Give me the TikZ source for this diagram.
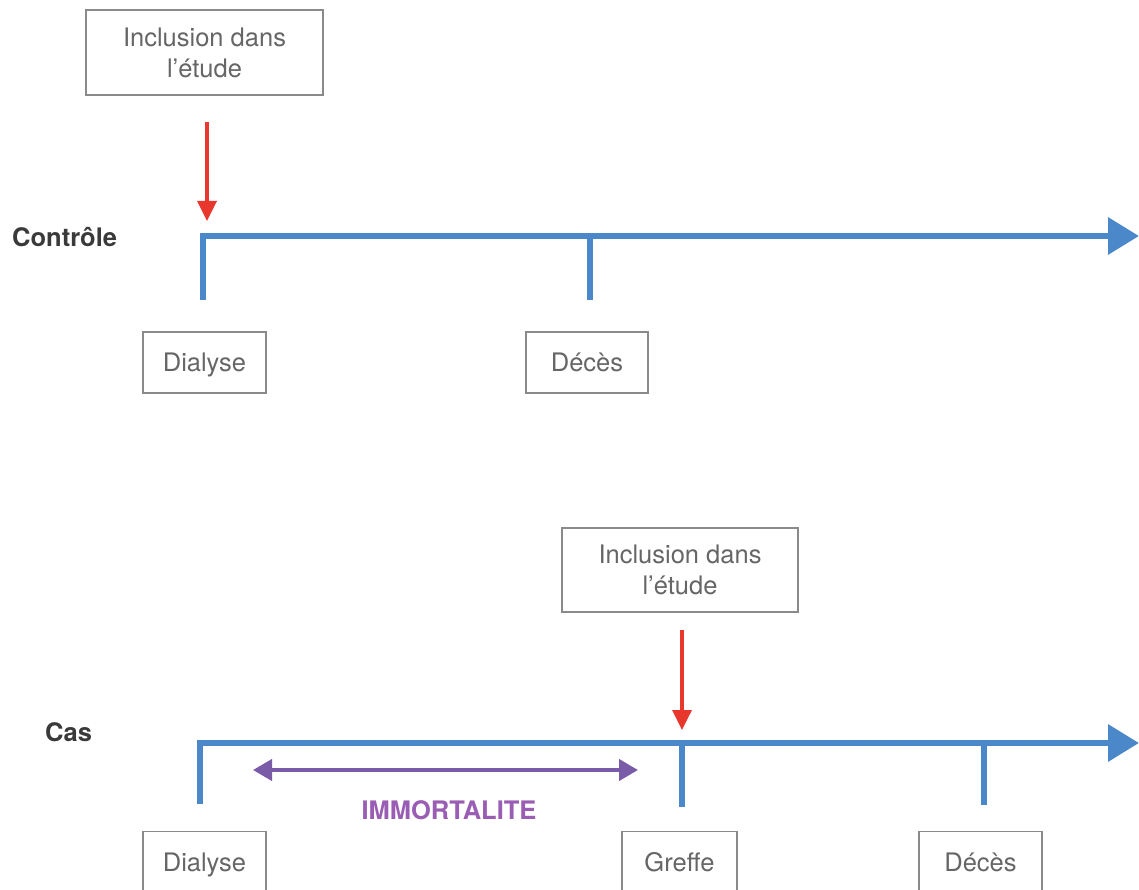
\documentclass[tikz,border=0pt]{standalone}
\usepackage{fontspec}
\setmainfont{TeX Gyre Heros}
\usetikzlibrary{arrows.meta}
\definecolor{tlblue}{HTML}{4A88C9}
\definecolor{tlred}{HTML}{E8372C}
\definecolor{tlpurple}{HTML}{7A5BA8}
\definecolor{tlpurpletext}{HTML}{9A5DB4}
\definecolor{boxgray}{HTML}{8A8A8A}
\definecolor{txtgray}{HTML}{666666}
\definecolor{lblgray}{HTML}{3A3A3A}
\tikzset{
  evbox/.style={draw=boxgray, line width=1.3pt, text=txtgray, align=center,
    font=\fontsize{25.5}{31}\selectfont, inner sep=0pt},
  onetext/.style={text=txtgray, font=\fontsize{25.5}{31}\selectfont, inner sep=0pt,
    text height=17pt, text depth=5pt},
  grplabel/.style={text=lblgray, font=\fontsize{25.5}{28}\selectfont\bfseries, anchor=west, inner sep=0pt},
  timeline/.style={draw=tlblue, line width=6.5pt, miter limit=10, -{Triangle[length=31pt,width=36pt]}},
  tick/.style={draw=tlblue, line width=6.5pt},
  inclarrow/.style={draw=tlred, line width=3.5pt, -{Triangle[length=20pt,width=19pt]}},
  immarrow/.style={draw=tlpurple, line width=4pt, {Triangle[length=19pt,width=21pt]}-{Triangle[length=19pt,width=21pt]}},
}
\begin{document}
\begin{tikzpicture}[x=1pt,y=-1pt]
\clip (0,0) rectangle (1139,890);
\useasboundingbox (0,0) rectangle (1139,890);
\fill[white] (0,0) rectangle (1139,890);

% ---------- Controle ----------
\node[evbox, minimum width=237pt, minimum height=85pt] (inc1) at (204.5,52.5) {Inclusion dans\\l’étude};
\coordinate (inc1top) at (207,122);
\coordinate (inc1tip) at (207,221);
\draw[inclarrow] (inc1top) -- (inc1tip);

\node[grplabel] (ctrl) at (12,237) {Contrôle};

\coordinate (c0) at (203,300);
\coordinate (c0t) at (203,236);
\coordinate (cend) at (1139,236);
\draw[timeline] (c0) -- (c0t) -- (cend);
\coordinate (c1t) at (590,236);
\coordinate (c1) at (590,300);
\draw[tick] (c1t) -- (c1);

\node[evbox, minimum width=123pt, minimum height=61pt] (dial1) at (204.5,362.5) {};
\node[onetext] (dial1t) at (204.5,365) {Dialyse};
\node[evbox, minimum width=122pt, minimum height=61pt] (dec1) at (587,362.5) {};
\node[onetext] (dec1t) at (587,365) {Décès};

% ---------- Cas ----------
\node[evbox, minimum width=236pt, minimum height=84pt] (inc2) at (680,570) {Inclusion dans\\l’étude};
\coordinate (inc2top) at (682,630);
\coordinate (inc2tip) at (682,730);
\draw[inclarrow] (inc2top) -- (inc2tip);

\node[grplabel] (cas) at (45,732) {Cas};

\coordinate (k0) at (200,804);
\coordinate (k0t) at (200,743);
\coordinate (kend) at (1139,743);
\draw[timeline] (k0) -- (k0t) -- (kend);
\coordinate (k1t) at (682,743);
\coordinate (k1) at (682,807);
\draw[tick] (k1t) -- (k1);
\coordinate (k2t) at (984,743);
\coordinate (k2) at (984,805);
\draw[tick] (k2t) -- (k2);

\coordinate (imL) at (253,770);
\coordinate (imR) at (638,770);
\draw[immarrow] (imL) -- (imR);
\node[text=tlpurpletext, font=\fontsize{25.5}{28}\selectfont\bfseries, inner sep=0pt] (imm) at (449,810) {IMMORTALITE};

\node[evbox, minimum width=123pt, minimum height=70pt, anchor=north] (dial2) at (204.5,831) {};
\node[onetext] (dial2t) at (204.5,865) {Dialyse};
\node[evbox, minimum width=115pt, minimum height=70pt, anchor=north] (gref) at (679.5,831) {};
\node[onetext] (greft) at (679.5,865) {Greffe};
\node[evbox, minimum width=123pt, minimum height=70pt, anchor=north] (dec2) at (980.5,831) {};
\node[onetext] (dec2t) at (980.5,865) {Décès};
\end{tikzpicture}
\end{document}
